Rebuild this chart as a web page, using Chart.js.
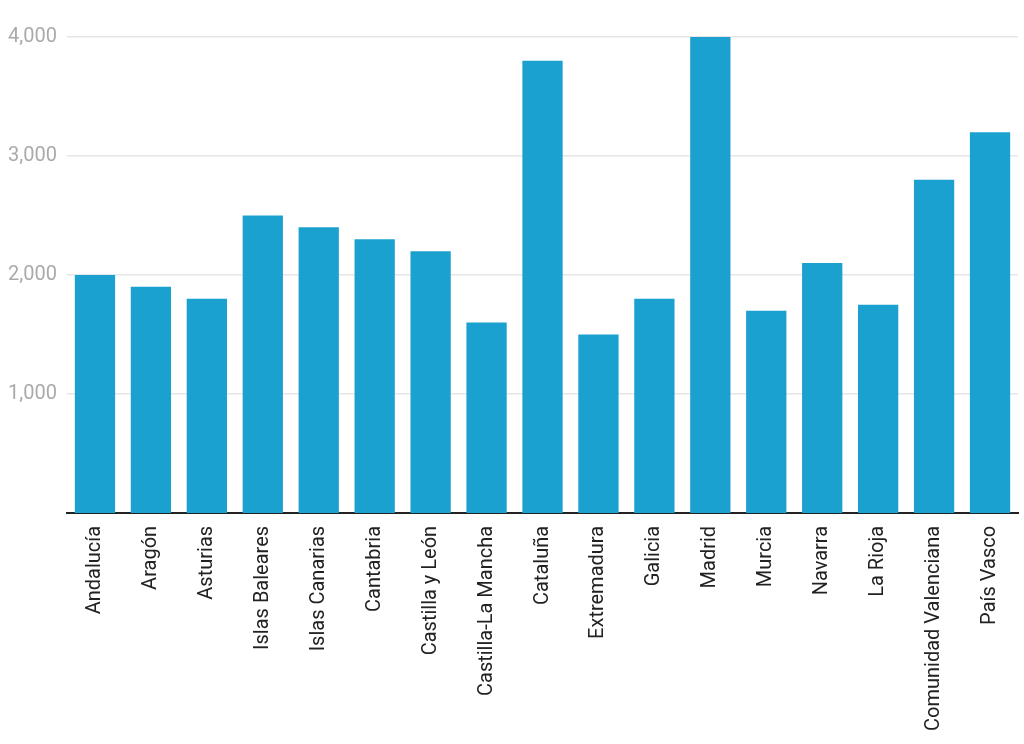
<!DOCTYPE html>
<html>
<head>
<meta charset="utf-8">
<script src="https://cdn.jsdelivr.net/npm/chart.js@4/dist/chart.umd.min.js"></script>
<style>
  html, body { margin: 0; padding: 0; background: #fff; }
  #wrap { width: 1024px; height: 744px; }
</style>
</head>
<body>
<div id="wrap"><canvas id="chart"></canvas></div>
<script>
// Regions and values
const regions = [
  'Andalucía', 'Aragón', 'Asturias', 'Islas Baleares', 'Islas Canarias',
  'Cantabria', 'Castilla y León', 'Castilla-La Mancha', 'Cataluña',
  'Extremadura', 'Galicia', 'Madrid', 'Murcia', 'Navarra', 'La Rioja',
  'Comunidad Valenciana', 'País Vasco'
];
const values = [2000, 1900, 1800, 2500, 2400, 2300, 2200, 1600, 3800,
                1500, 1800, 4000, 1700, 2100, 1750, 2800, 3200];
const yTicks = [1000, 2000, 3000, 4000];

const BAR = '#1ba1cf';

const ctx = document.getElementById('chart').getContext('2d');
new Chart(ctx, {
  type: 'bar',
  data: {
    labels: regions,
    datasets: [{ data: values, backgroundColor: BAR, barPercentage: 0.8, categoryPercentage: 0.9 }]
  },
  options: {
    animation: false,
    responsive: true,
    maintainAspectRatio: false,
    layout: { padding: { top: 37, right: 6, left: 0, bottom: 8 } },
    plugins: { legend: { display: false }, tooltip: { enabled: false } },
    scales: {
      x: {
        grid: { display: false },
        border: { display: true, color: '#222', width: 2 },
        ticks: {
          color: '#222',
          font: { family: 'Roboto', size: 20 },
          maxRotation: 90, minRotation: 90,
          autoSkip: false, padding: 5
        }
      },
      y: {
        min: 0, max: 4000,
        afterBuildTicks: (axis) => { axis.ticks = yTicks.map(v => ({ value: v })); },
        afterFit: (axis) => { axis.width = 67; },
        grid: { color: '#e6e6e6', drawTicks: false, lineWidth: 1.5 },
        border: { display: false },
        ticks: {
          color: '#aaa',
          padding: 10,
          font: { family: 'Roboto', size: 20 },
          callback: (v) => v.toLocaleString('en-US')
        }
      }
    }
  }
});
</script>
</body>
</html>
